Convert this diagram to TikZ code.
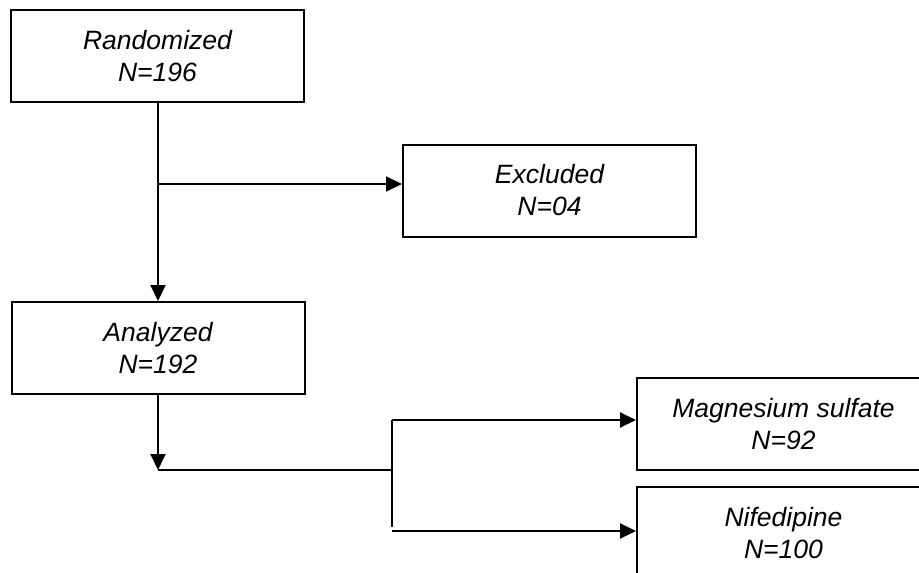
\documentclass[tikz,border=0pt]{standalone}
\usepackage{fontspec}
\setmainfont{Liberation Sans}
\usetikzlibrary{arrows.meta}
\tikzset{
  box/.style={draw, line width=2pt, minimum width=293pt, minimum height=92pt, inner sep=0pt, align=center, font=\fontsize{26.5}{32}\selectfont\itshape},
  arrow/.style={line width=2pt, -{Triangle[length=16pt,width=15pt]}}
}
\begin{document}
\begin{tikzpicture}[x=1pt,y=-1pt]
\useasboundingbox (0,0) rectangle (919,573);
\clip (0,0) rectangle (919,573);
\node[box] (rand) at (157.5,56) {Randomized\\ N=196};
\node[box] (excl) at (549.5,190.5) {Excluded\\ N=04};
\node[box] (anal) at (158,348) {Analyzed\\ N=192};
\node[box] (mag) at (783.5,424) {Magnesium sulfate\\ N=92};
\node[box] (nif) at (783.5,533) {Nifedipine\\ N=100};

\coordinate (split1) at (158,184);
\coordinate (split2) at (158,470);
\coordinate (forktop) at (392,420);
\coordinate (forkbot) at (392,527);
\coordinate (forkout) at (392,531);

\draw[arrow] (rand.south -| split1) -- (anal.north -| split1);
\draw[arrow] (split1) -- (split1 -| excl.west);
\draw[arrow] (anal.south -| split2) -- (split2);
\draw[line width=2pt] (split2) -- (split2 -| forktop);
\draw[line width=2pt] (forktop) -- (forkbot);
\draw[arrow] (forktop) -- (forktop -| mag.west);
\draw[arrow] (forkout) -- (forkout -| nif.west);
\end{tikzpicture}
\end{document}
